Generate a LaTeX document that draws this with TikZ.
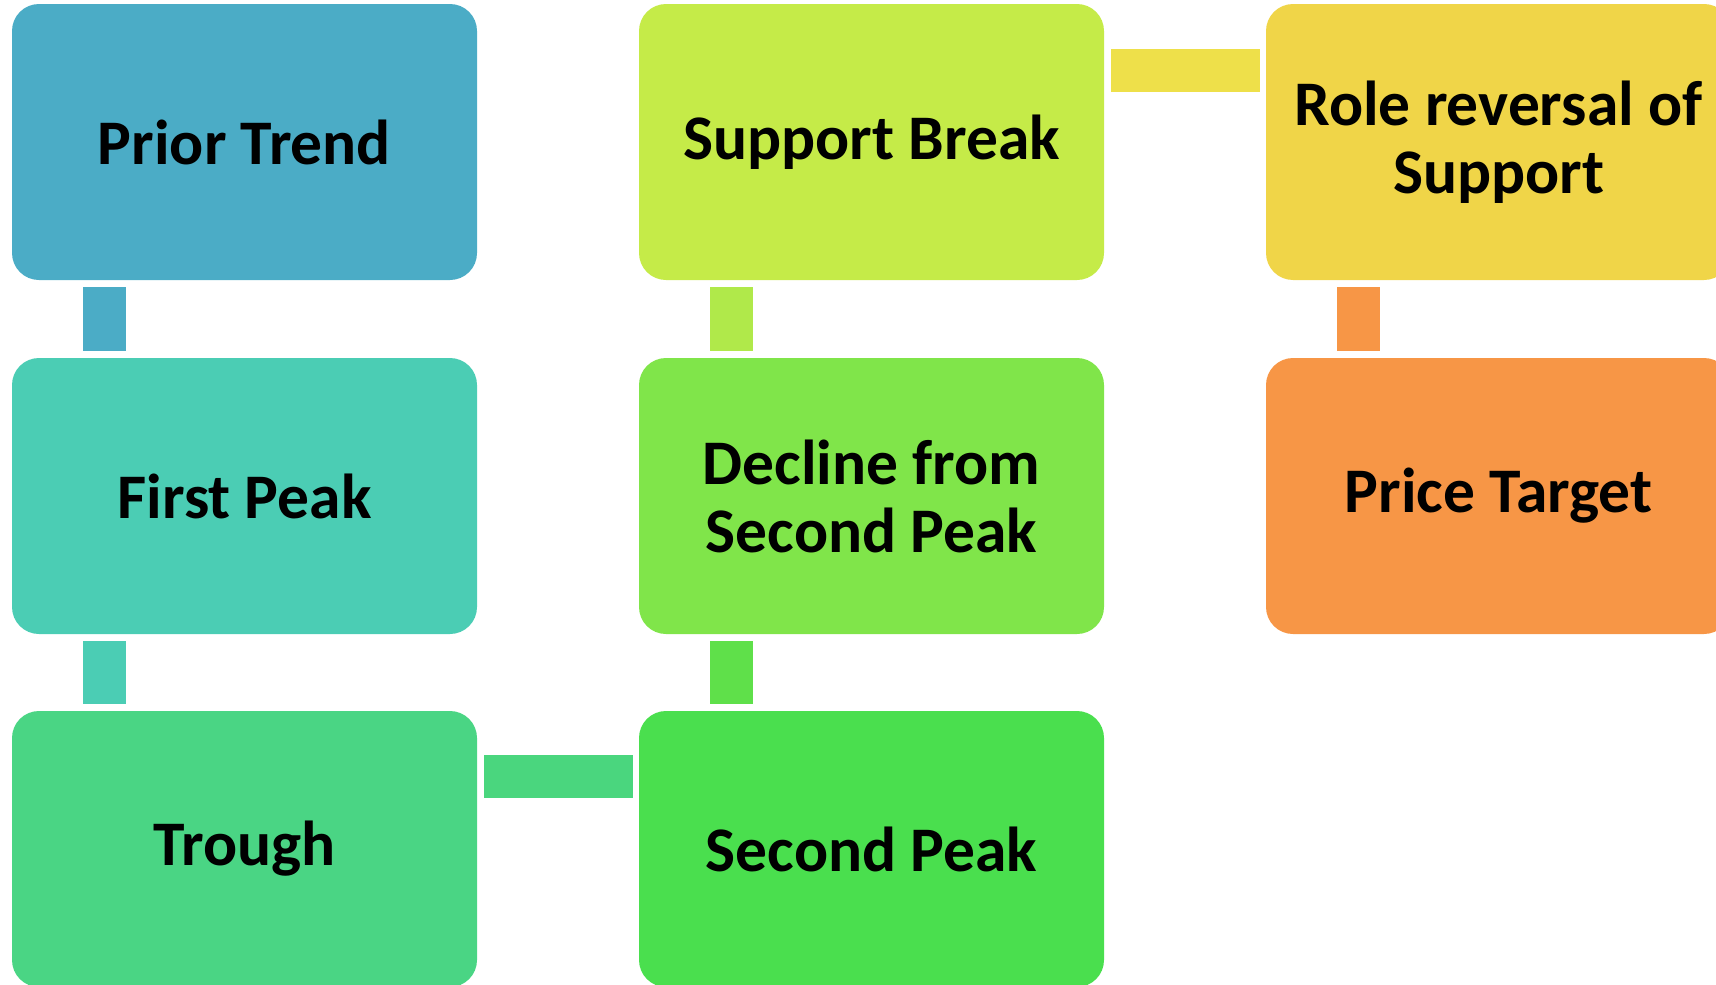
\documentclass[tikz,border=0pt]{standalone}
\usepackage{fontspec}
\setmainfont{Carlito}
\begin{document}
\begin{tikzpicture}[x=1pt,y=-1pt,
  box/.style={rectangle, rounded corners=27pt, minimum width=465pt, minimum height=276pt,
    inner sep=0pt, align=center, text=black,
    font=\fontsize{63.5}{68}\selectfont\bfseries},
  conn/.style={line width=43pt, line cap=butt}]
\definecolor{cPT}{HTML}{4BACC6}
\definecolor{cFP}{HTML}{4BCDB4}
\definecolor{cTR}{HTML}{4AD584}
\definecolor{cSP}{HTML}{4ADF4E}
\definecolor{cDC}{HTML}{80E54A}
\definecolor{cSB}{HTML}{C5EB48}
\definecolor{cRR}{HTML}{F0D548}
\definecolor{cPR}{HTML}{F79646}
\definecolor{kTR}{HTML}{4AD67E}
\definecolor{kSP}{HTML}{5FE04A}
\definecolor{kDC}{HTML}{B0E94A}
\definecolor{kSB}{HTML}{EEE04A}
\useasboundingbox (0,0) rectangle (1716,985);
\clip (0,0) rectangle (1716,985);
\node[box, fill=cPT] (pt) at (244.5,142) {Prior Trend};
\node[box, fill=cFP] (fp) at (244.5,496) {First Peak};
\node[box, fill=cTR] (tr) at (244.5,849) {Trough};
\node[box, fill=cSP] (sp) at (871.5,849) {Second Peak};
\node[box, fill=cDC] (dc) at (871.5,496) {Decline from\\Second Peak};
\node[box, fill=cSB] (sb) at (871.5,142) {Support Break};
\node[box, fill=cRR] (rr) at (1498.5,142) {Role reversal of\\Support};
\node[box, fill=cPR] (pr) at (1498.5,496) {Price Target};
\draw[conn, cPT] ([xshift=-140pt,yshift=-7pt]pt.south) -- ([xshift=-140pt,yshift=7pt]fp.north);
\draw[conn, cFP] ([xshift=-140pt,yshift=-7pt]fp.south) -- ([xshift=-140pt,yshift=7pt]tr.north);
\draw[conn, kTR] ([xshift=7pt,yshift=72.5pt]tr.east) -- ([xshift=-6pt,yshift=72.5pt]sp.west);
\draw[conn, kSP] ([xshift=-140pt,yshift=7pt]sp.north) -- ([xshift=-140pt,yshift=-7pt]dc.south);
\draw[conn, kDC] ([xshift=-140pt,yshift=7pt]dc.north) -- ([xshift=-140pt,yshift=-7pt]sb.south);
\draw[conn, kSB] ([xshift=7pt,yshift=72pt]sb.east) -- ([xshift=-6pt,yshift=72pt]rr.west);
\draw[conn, cPR] ([xshift=-140pt,yshift=-7pt]rr.south) -- ([xshift=-140pt,yshift=7pt]pr.north);
\end{tikzpicture}
\end{document}
